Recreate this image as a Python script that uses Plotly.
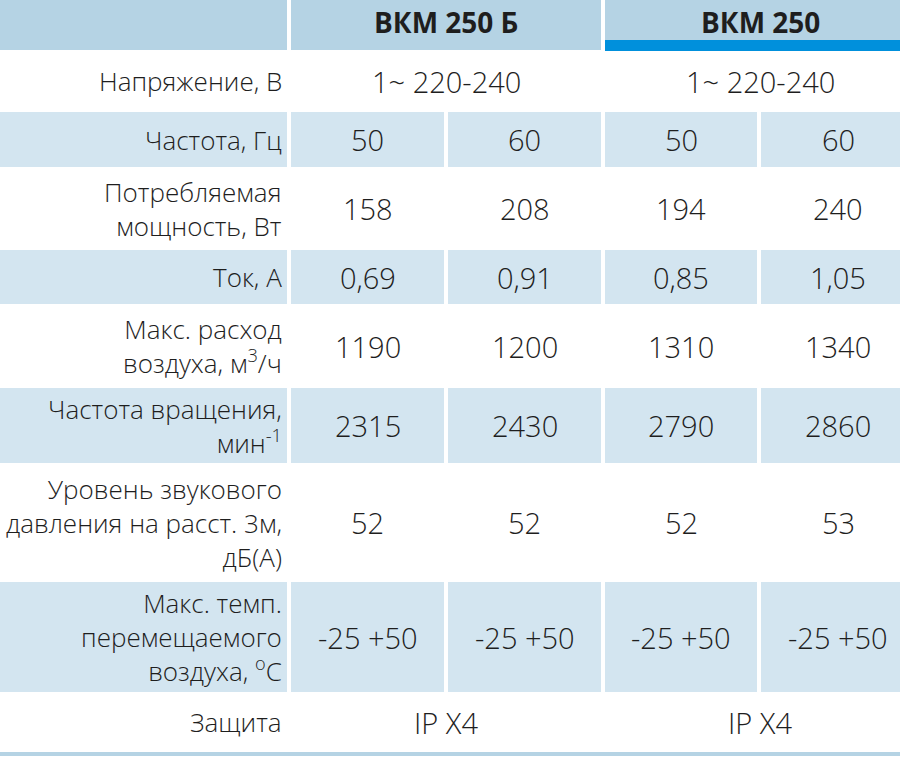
import plotly.graph_objects as go

# Données du tableau
models = ["ВКМ 250 Б", "ВКМ 250"]

params = [
    "Напряжение, В",
    "Частота, Гц",
    "Потребляемая<br>мощность, Вт",
    "Ток, А",
    "Макс. расход<br>воздуха, м<sup>3</sup>/ч",
    "Частота вращения,<br>мин<sup>-1</sup>",
    "Уровень звукового<br>давления на расст. 3м,<br>дБ(А)",
    "Макс. темп.<br>перемещаемого<br>воздуха, <sup>o</sup>C",
    "Защита",
]

# valeurs par colonne (None = cellule fusionnée avec la voisine)
vkm250b_50 = ["1~ 220-240", "50", "158", "0,69", "1190", "2315", "52", "-25 +50", "IP X4"]
vkm250b_60 = [None, "60", "208", "0,91", "1200", "2430", "52", "-25 +50", None]
vkm250_50 = ["1~ 220-240", "50", "194", "0,85", "1310", "2790", "52", "-25 +50", "IP X4"]
vkm250_60 = [None, "60", "240", "1,05", "1340", "2860", "53", "-25 +50", None]

value_cols = [vkm250b_50, vkm250b_60, vkm250_50, vkm250_60]

# Mise en page (en pixels, axes 0..900 et 0..758)
col_widths = [287, 153, 153, 152, 154]
gap = 4
header_h = 50
row_heights = [62, 55, 83, 54, 84, 75, 119, 110, 60]

header_color = "#b5d3e4"
stripe_color = "#d3e5f0"
accent_color = "#0090dc"
text_color = "#1e1e1e"
font_family = "Open Sans, Noto Sans, sans-serif"

# bords des colonnes
col_x = []
x = 0
for w in col_widths:
    col_x.append((x, x + w))
    x += w + gap

# bords des lignes
row_y = []
y = header_h
for h in row_heights:
    row_y.append((y, y + h))
    y += h
table_bottom = y

shapes = []
annotations = []


def rect(x0, x1, y0, y1, color):
    shapes.append(dict(type="rect", xref="x", yref="y", x0=x0, x1=x1, y0=y0, y1=y1,
                       fillcolor=color, line=dict(width=0), layer="below"))


# En-tête
rect(col_x[0][0], col_x[0][1], 0, header_h, header_color)
for i, name in enumerate(models):
    left = col_x[1 + 2 * i][0]
    right = col_x[2 + 2 * i][1]
    rect(left, right, 0, header_h, header_color)
    annotations.append(dict(x=(left + right) / 2, y=22, text="<b>" + name + "</b>",
                            font=dict(size=28, color=text_color)))
# barre bleue sous le deuxième modèle
rect(col_x[3][0], col_x[4][1], 40, 51, accent_color)

# Lignes
for r, label in enumerate(params):
    y0, y1 = row_y[r]
    yc = (y0 + y1) / 2
    if r % 2 == 1:
        for c in range(len(col_x)):
            rect(col_x[c][0], col_x[c][1], y0, y1, stripe_color)
    annotations.append(dict(x=col_x[0][1] - 3, y=yc, text=label, xanchor="right",
                            align="right", font=dict(size=26, color=text_color, weight=300)))
    for c, col in enumerate(value_cols):
        val = col[r]
        if val is None:
            continue
        left, right = col_x[c + 1]
        if c + 1 < len(value_cols) and value_cols[c + 1][r] is None:
            right = col_x[c + 2][1]
        annotations.append(dict(x=(left + right) / 2, y=yc, text=val,
                                font=dict(size=29, color=text_color, weight=300)))

# ligne du bas
rect(0, 915, table_bottom, table_bottom + 4, header_color)

for a in annotations:
    a.update(xref="x", yref="y", showarrow=False)
    a.setdefault("xanchor", "center")
    a.setdefault("yanchor", "middle")

fig = go.Figure()
fig.update_layout(
    width=900, height=758,
    margin=dict(l=0, r=0, t=0, b=0),
    paper_bgcolor="white", plot_bgcolor="white",
    font=dict(family=font_family, color=text_color),
    shapes=shapes, annotations=annotations,
    xaxis=dict(range=[0, 900], visible=False, fixedrange=True),
    yaxis=dict(range=[758, 0], visible=False, fixedrange=True),
    showlegend=False,
)

# marge du navigateur à zéro pour coller à la fenêtre
fig.write_html("out.html", config={"displayModeBar": False},
               post_script="document.body.style.margin='0';")
